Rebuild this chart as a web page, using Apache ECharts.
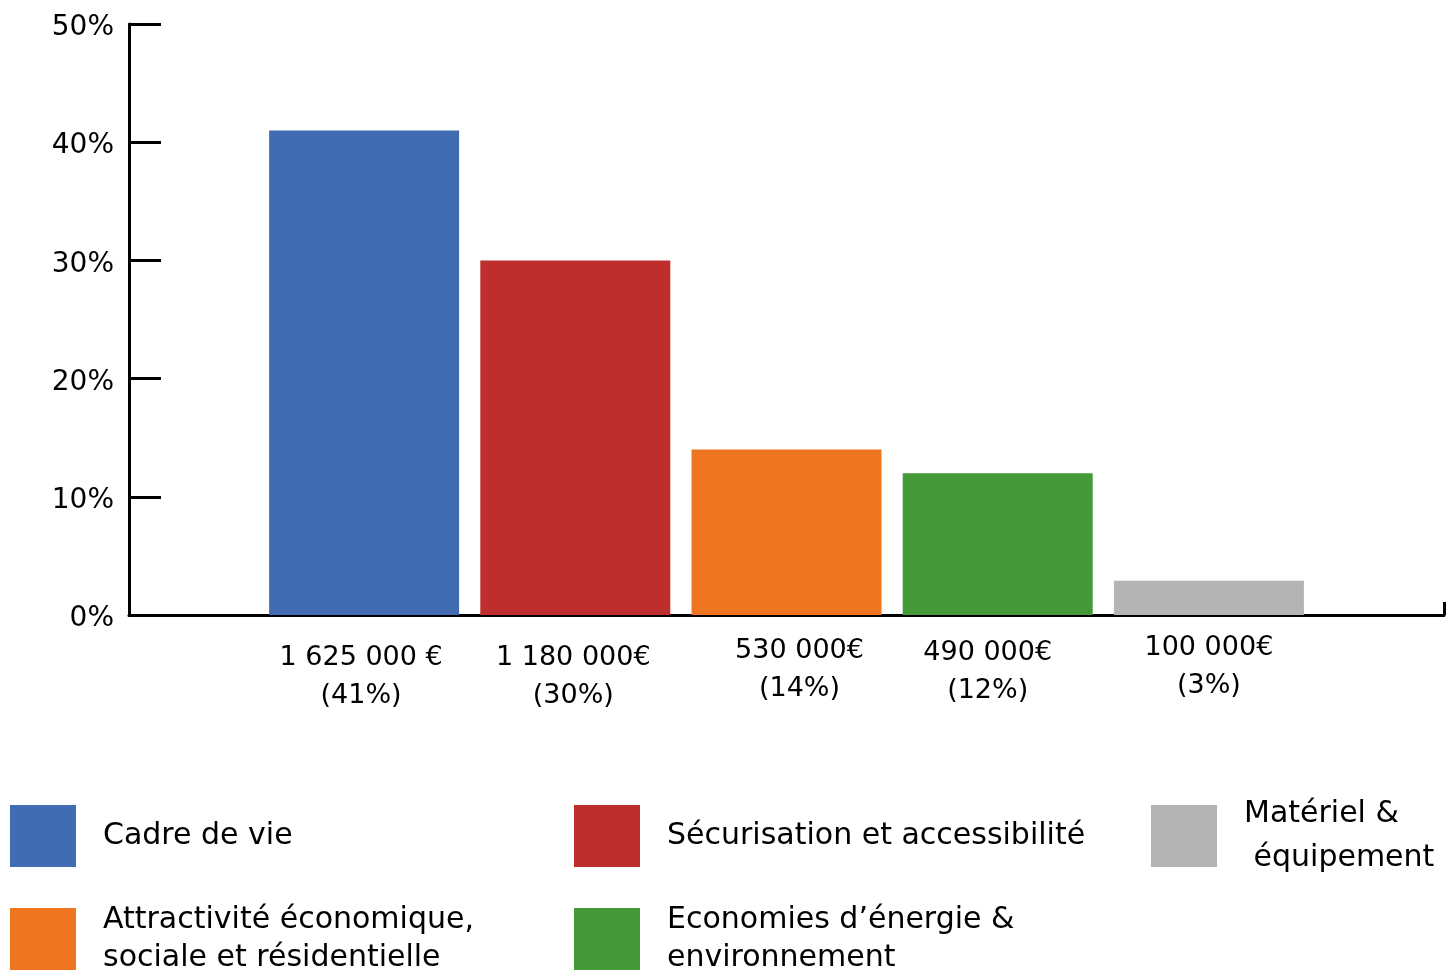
<!DOCTYPE html>
<html>
<head>
<meta charset="utf-8">
<script src="https://cdn.jsdelivr.net/npm/echarts@6/dist/echarts.min.js"></script>
<style>
  html, body { margin: 0; padding: 0; background: #fff; }
  #chart { width: 1447px; height: 972px; }
</style>
</head>
<body>
<div id="chart"></div>
<script>
  // données
  const categories = [
    'Cadre de vie',
    'Sécurisation et accessibilité',
    'Attractivité économique,\nsociale et résidentielle',
    'Economies d’énergie &\nenvironnement',
    'Matériel &\n équipement'
  ]
  const amounts = ['1 625 000 €', '1 180 000€', '530 000€', '490 000€', '100 000€']
  const percentLabels = ['(41%)', '(30%)', '(14%)', '(12%)', '(3%)']
  const shares = [41, 30, 14, 12, 2.9]
  const colors = ['#416cb3', '#be2e2c', '#ee7621', '#449a38', '#b4b4b4']

  const font = 'DejaVu Sans'

  // petits décalages des étiquettes sous les barres
  const labelPad = [[10, 6, 0, 0], [10, 4, 0, 0], [3, 0, 0, 26], [5, 20, 0, 0], [0, 0, 0, 0]]
  // emplacement de chaque entrée de légende
  const legendPos = [
    { left: 10, top: 805, lh: 38 },
    { left: 574, top: 805, lh: 38 },
    { left: 10, top: 901, lh: 38 },
    { left: 574, top: 901, lh: 38 },
    { left: 1151, top: 792, lh: 44 }
  ]

  const myChart = echarts.init(document.getElementById('chart'))

  const option = {
    animation: false,
    textStyle: { fontFamily: font, color: '#000' },
    grid: [
      // grille des barres (catégories)
      { left: 258.5, right: 132.5, top: 24, bottom: 357 },
      // grille des axes
      { left: 129, right: 3, top: 24, bottom: 357 }
    ],
    xAxis: [
      {
        type: 'category',
        gridIndex: 0,
        data: amounts.map((a, i) => ({ value: a, textStyle: { padding: labelPad[i] } })),
        axisLine: { show: false },
        axisTick: { show: false },
        axisLabel: {
          interval: 0,
          margin: 14,
          fontSize: 27,
          lineHeight: 38,
          color: '#000',
          fontFamily: font,
          formatter: (v, idx) => v + '\n' + percentLabels[idx]
        }
      },
      {
        type: 'value',
        gridIndex: 1,
        min: 0,
        max: 1,
        interval: 1,
        axisLine: { show: true, lineStyle: { color: '#000', width: 3 } },
        axisTick: { show: true, inside: true, length: 13, lineStyle: { color: '#000', width: 3 } },
        axisLabel: { show: false },
        splitLine: { show: false }
      }
    ],
    yAxis: [
      { type: 'value', gridIndex: 0, min: 0, max: 50, interval: 10, show: false },
      {
        type: 'value',
        gridIndex: 1,
        min: 0,
        max: 50,
        interval: 10,
        axisLine: { show: true, lineStyle: { color: '#000', width: 3 } },
        axisTick: { show: true, inside: true, length: 32, lineStyle: { color: '#000', width: 3 } },
        axisLabel: {
          margin: 15,
          fontSize: 28,
          color: '#000',
          fontFamily: font,
          verticalAlign: 'top',
          lineHeight: 28,
          padding: [-10, 0, 0, 0],
          formatter: '{value}%'
        },
        splitLine: { show: false }
      }
    ],
    legend: categories.map((name, i) => ({
      data: [name],
      left: legendPos[i].left,
      top: legendPos[i].top,
      padding: 0,
      orient: 'vertical',
      selectedMode: false,
      icon: 'rect',
      itemWidth: 66,
      itemHeight: 62,
      textStyle: {
        fontFamily: font,
        fontSize: 30,
        color: '#000',
        lineHeight: legendPos[i].lh,
        padding: [0, 0, 0, 22]
      }
    })),
    series: categories.map((name, i) => ({
      type: 'bar',
      name: name,
      stack: 'total',
      xAxisIndex: 0,
      yAxisIndex: 0,
      barWidth: 190,
      itemStyle: { color: colors[i] },
      data: shares.map((v, j) => (j === i ? v : '-'))
    }))
  }

  myChart.setOption(option)
</script>
</body>
</html>
